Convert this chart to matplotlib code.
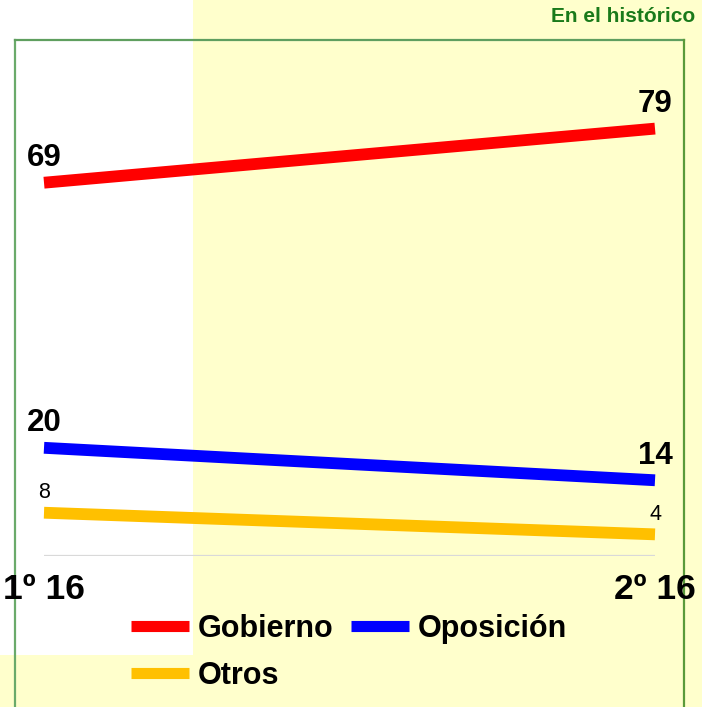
import matplotlib
matplotlib.use("Agg")
import matplotlib.pyplot as plt
from matplotlib.patches import Rectangle
from matplotlib.lines import Line2D

plt.rcParams['font.family'] = ['Liberation Sans', 'DejaVu Sans']

periods = ["1º 16", "2º 16"]
series_names = ["Gobierno", "Oposición", "Otros"]
gobierno = [69, 79]
oposicion = [20, 14]
otros = [8, 4]
colors = ["#FF0000", "#0000FF", "#FFC000"]
title = "En el histórico"

W, H = 702, 707
fig = plt.figure(figsize=(W/100, H/100), dpi=100)
fig.patch.set_facecolor("#FFFFCC")

def fx(px):
    return px / W
def fy(py):
    return 1 - py / H

# white panel at top-left
fig.patches.append(Rectangle((0, fy(655)), fx(193), 655/H, transform=fig.transFigure,
                             facecolor="white", edgecolor="none", zorder=-5))
# green frame
fig.lines.append(Line2D([fx(15), fx(15)], [fy(40), fy(720)], transform=fig.transFigure,
                        color="#6aaa6a", lw=1.6, zorder=-4))
fig.lines.append(Line2D([fx(15), fx(684)], [fy(40), fy(40)], transform=fig.transFigure,
                        color="#5f9f5f", lw=1.6, zorder=-4))
fig.lines.append(Line2D([fx(684), fx(684)], [fy(40), fy(720)], transform=fig.transFigure,
                        color="#5a9a3a", lw=1.6, zorder=-4))

fig.text(fx(695), fy(16), title, ha="right", va="center", fontsize=15,
         fontweight="bold", color="#1a7a1a")

x0, x1 = 44, 655
ybase, ytop = 556, 15
ax = fig.add_axes([fx(x0), fy(ybase), fx(x1 - x0), (ybase - ytop)/H])
ax.set_zorder(1)
ax.set_facecolor("none")
ax.set_xlim(0, 1)
ax.set_ylim(0, 100)
xs = [0, 1]

all_series = [gobierno, oposicion, otros]
handles = []
for name, vals, c in zip(series_names, all_series, colors):
    h, = ax.plot(xs, vals, color=c, lw=8.5, solid_capstyle="butt", clip_on=False, label=name)
    handles.append(h)

for vals in [gobierno, oposicion]:
    for xv, v in zip(xs, vals):
        ax.annotate(str(v), (xv, v), xytext=(0, 17.5), textcoords="offset points",
                    ha="center", va="center", fontsize=22.5, fontweight="bold", color="black")
for xv, v in zip(xs, otros):
    ax.annotate(str(v), (xv, v), xytext=(0, 14.5), textcoords="offset points",
                ha="center", va="center", fontsize=15.5, color="black")

ax.axhline(0, color="#d9d9d9", lw=1.6, zorder=0)
for s in ax.spines.values():
    s.set_visible(False)
ax.set_yticks([])
ax.set_xticks(xs)
ax.set_xticklabels(periods, fontsize=25.5, fontweight="bold")
ax.tick_params(axis="x", length=0, pad=12)

order = [0, 2, 1]
leg = fig.legend([handles[i] for i in order], [series_names[i] for i in order],
                 ncol=2, loc="upper left", bbox_to_anchor=(fx(131), fy(614)),
                 frameon=False, prop={"weight": "bold", "size": 22},
                 handlelength=1.9, handletextpad=0.3, columnspacing=0.55,
                 labelspacing=0.55, borderpad=0, borderaxespad=0)
for lh in leg.get_lines():
    lh.set_linewidth(8)

fig.savefig("out.png", dpi=100, facecolor=fig.get_facecolor())
